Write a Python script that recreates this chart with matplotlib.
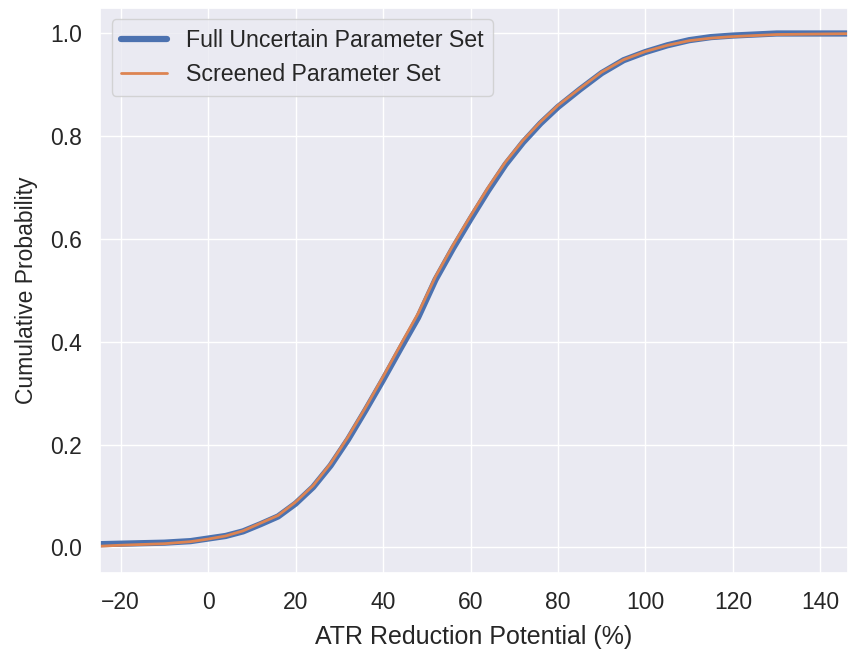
import matplotlib
matplotlib.use("Agg")
import matplotlib.pyplot as plt
import seaborn as sns

sns.set_theme(style="darkgrid")
plt.rcParams['font.family'] = ['Liberation Sans', 'DejaVu Sans']

# ATR reduction potential (%) sample points
x_vals = [-25, -20, -10, -4, 0, 4, 8, 12, 16, 20, 24, 28, 32, 36, 40, 44, 48,
          52, 56, 60, 64, 68, 72, 76, 80, 85, 90, 95, 100, 105, 110, 115, 120,
          130, 140, 150]

# Cumulative probability, full uncertain parameter set
y_full = [0.006, 0.007, 0.009, 0.012, 0.017, 0.022, 0.031, 0.045, 0.060, 0.085,
          0.117, 0.159, 0.210, 0.267, 0.326, 0.387, 0.447, 0.521, 0.582, 0.639,
          0.694, 0.745, 0.788, 0.825, 0.857, 0.891, 0.923, 0.948, 0.964, 0.977,
          0.987, 0.993, 0.996, 1.000, 1.000, 1.000]

# Cumulative probability, screened parameter set
y_screened = [0.002, 0.004, 0.007, 0.011, 0.016, 0.022, 0.032, 0.047, 0.062, 0.088,
              0.120, 0.163, 0.215, 0.272, 0.332, 0.394, 0.455, 0.527, 0.588, 0.645,
              0.700, 0.750, 0.792, 0.828, 0.860, 0.893, 0.925, 0.949, 0.965, 0.977,
              0.986, 0.991, 0.994, 0.998, 0.999, 1.000]

labels = ["Full Uncertain Parameter Set", "Screened Parameter Set"]

fig = plt.figure(figsize=(8.48, 6.5), dpi=100)
ax = fig.add_axes([0.118, 0.1185, 0.882, 0.8695])

ax.plot(x_vals, y_full, color="#4c72b0", lw=4.5, label=labels[0])
ax.plot(x_vals, y_screened, color="#dd8452", lw=2, label=labels[1])

ax.set_xlim(-24.7, 146.3)
ax.set_ylim(-0.05, 1.05)
ax.set_xticks([-20, 0, 20, 40, 60, 80, 100, 120, 140])
ax.set_yticks([0.0, 0.2, 0.4, 0.6, 0.8, 1.0])
ax.tick_params(labelsize=16.5, pad=7)
ax.set_xlabel("ATR Reduction Potential (%)", fontsize=18, labelpad=8)
ax.set_ylabel("Cumulative Probability", fontsize=16.5, labelpad=9)
ax.legend(loc="upper left", fontsize=16.7)

fig.savefig("out.png", dpi=100)
